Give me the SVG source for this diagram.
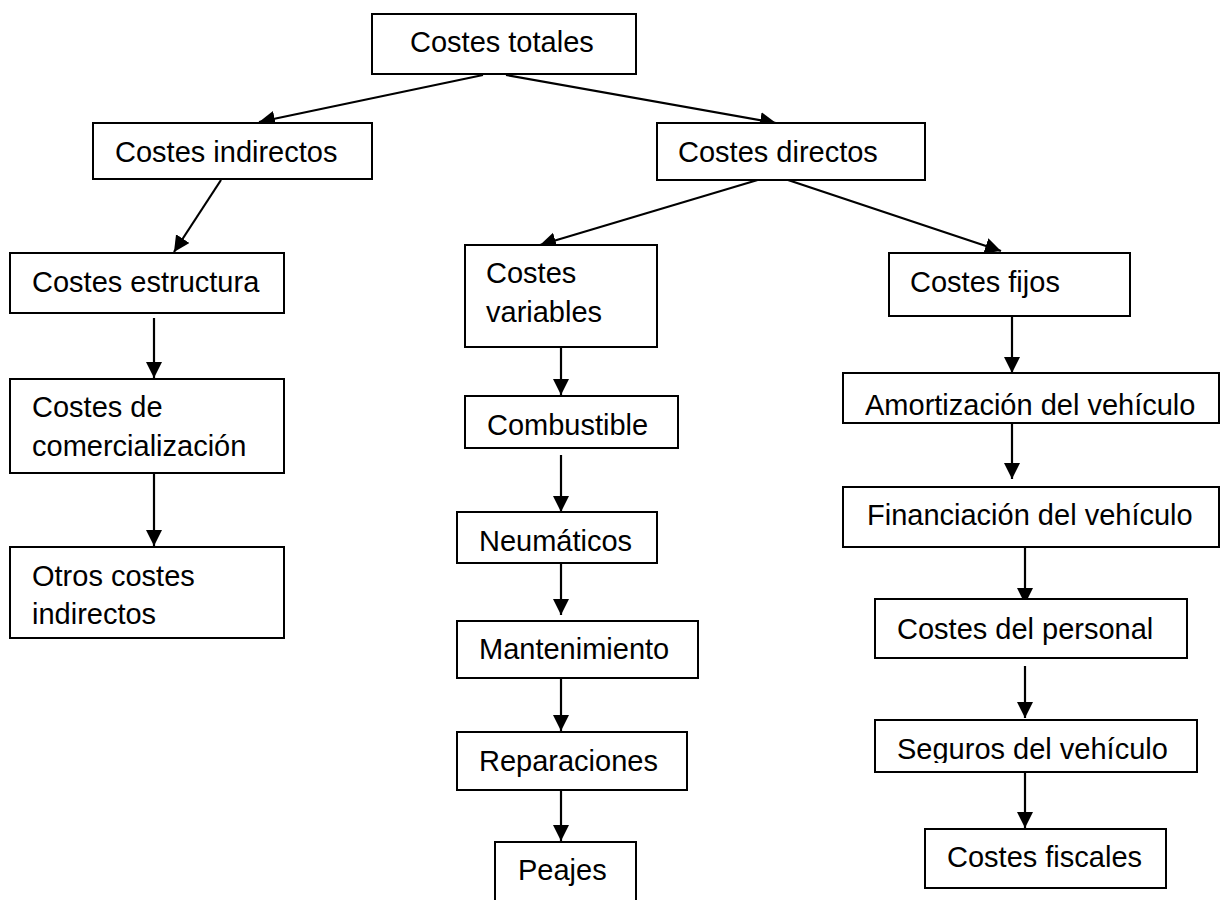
<svg xmlns="http://www.w3.org/2000/svg" width="1220" height="900" viewBox="0 0 1220 900">
<style>
.box{fill:#fff;stroke:#000;stroke-width:2}
.t{font-family:"Liberation Sans",Arial,sans-serif;font-size:29px;fill:#000}
.c{stroke:#000;stroke-width:2.2;fill:none;marker-end:url(#ah)}
</style>
<defs>
<marker id="ah" markerUnits="userSpaceOnUse" markerWidth="17" markerHeight="17" refX="16" refY="8" orient="auto">
<path d="M0,0 L16,8 L0,16 z" fill="#000"/>
</marker>
<clipPath id="segclip"><rect x="875" y="720" width="322" height="43"/></clipPath>
</defs>
<rect width="1220" height="900" fill="#fff"/>
<g id="connectors">
<line class="c" x1="483" y1="75" x2="259" y2="122"/>
<line class="c" x1="506" y1="75" x2="776" y2="123"/>
<line class="c" x1="221" y1="180" x2="174" y2="252"/>
<line class="c" x1="761" y1="179" x2="540" y2="245"/>
<line class="c" x1="788" y1="180" x2="1001" y2="251"/>
<line class="c" x1="154" y1="318" x2="154" y2="378"/>
<line class="c" x1="154" y1="473" x2="154" y2="546"/>
<line class="c" x1="561" y1="347" x2="561" y2="395"/>
<line class="c" x1="561" y1="455" x2="561" y2="512"/>
<line class="c" x1="561" y1="563" x2="561" y2="615"/>
<line class="c" x1="561" y1="678" x2="561" y2="731"/>
<line class="c" x1="561" y1="788" x2="561" y2="841"/>
<line class="c" x1="1012" y1="317" x2="1012" y2="373"/>
<line class="c" x1="1012" y1="423" x2="1012" y2="479"/>
<line class="c" x1="1025" y1="547" x2="1025" y2="604"/>
<line class="c" x1="1025" y1="666" x2="1025" y2="718"/>
<line class="c" x1="1025" y1="772" x2="1025" y2="828"/>
</g>
<g id="n-totales"><rect class="box" x="372" y="14" width="264" height="60"/><text class="t" x="410" y="52">Costes totales</text></g>
<g id="n-indirectos"><rect class="box" x="93" y="123" width="279" height="56"/><text class="t" x="115" y="162">Costes indirectos</text></g>
<g id="n-directos"><rect class="box" x="657" y="123" width="268" height="57"/><text class="t" x="678" y="162">Costes directos</text></g>
<g id="n-estructura"><rect class="box" x="10" y="253" width="274" height="60"/><text class="t" x="32" y="292">Costes estructura</text></g>
<g id="n-variables"><rect class="box" x="465" y="245" width="192" height="102"/><text class="t" x="486" y="283">Costes</text><text class="t" x="486" y="322">variables</text></g>
<g id="n-fijos"><rect class="box" x="889" y="253" width="241" height="63"/><text class="t" x="910" y="292">Costes fijos</text></g>
<g id="n-comercializacion"><rect class="box" x="10" y="379" width="274" height="94"/><text class="t" x="32" y="417">Costes de</text><text class="t" x="32" y="456">comercialización</text></g>
<g id="n-otros"><rect class="box" x="10" y="547" width="274" height="91"/><text class="t" x="32" y="586">Otros costes</text><text class="t" x="32" y="624">indirectos</text></g>
<g id="n-combustible"><rect class="box" x="465" y="396" width="213" height="52"/><text class="t" x="487" y="435">Combustible</text></g>
<g id="n-neumaticos"><rect class="box" x="457" y="512" width="200" height="51"/><text class="t" x="479" y="551">Neumáticos</text></g>
<g id="n-mantenimiento"><rect class="box" x="457" y="621" width="241" height="57"/><text class="t" x="479" y="659">Mantenimiento</text></g>
<g id="n-reparaciones"><rect class="box" x="457" y="732" width="230" height="58"/><text class="t" x="479" y="771">Reparaciones</text></g>
<g id="n-peajes"><rect class="box" x="495" y="842" width="141" height="70"/><text class="t" x="518" y="880">Peajes</text></g>
<g id="n-amortizacion"><rect class="box" x="843" y="373" width="376" height="50"/><text class="t" x="865" y="415">Amortización del vehículo</text></g>
<g id="n-financiacion"><rect class="box" x="843" y="487" width="376" height="60"/><text class="t" x="867" y="525">Financiación del vehículo</text></g>
<g id="n-personal"><rect class="box" x="875" y="599" width="312" height="59"/><text class="t" x="897" y="639">Costes del personal</text></g>
<g id="n-seguros"><rect class="box" x="875" y="720" width="322" height="52"/><text class="t" x="897" y="759" clip-path="url(#segclip)">Seguros del vehículo</text></g>
<g id="n-fiscales"><rect class="box" x="925" y="829" width="241" height="59"/><text class="t" x="947" y="867">Costes fiscales</text></g>
</svg>
